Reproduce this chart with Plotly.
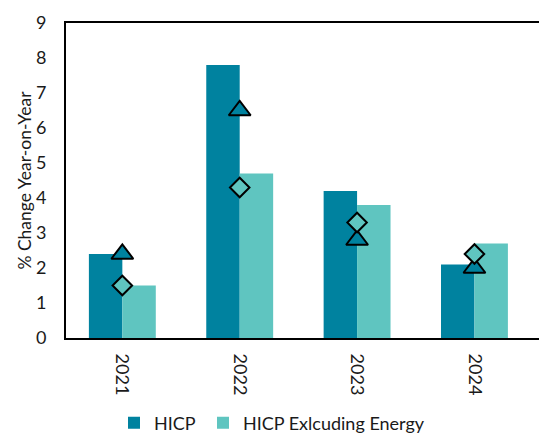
import plotly.graph_objects as go

years = ["2021", "2022", "2023", "2024"]
hicp = [2.4, 7.8, 4.2, 2.1]
hicp_ex_energy = [1.5, 4.7, 3.8, 2.7]
hicp_triangle = [2.4, 6.5, 2.8, 2.0]
hicp_ex_energy_diamond = [1.5, 4.3, 3.3, 2.4]

DARK = "#00829F"
LIGHT = "#5FC5C0"
FONT = "Lato"
TXT = "#1a1a1a"

fig = go.Figure()
fig.add_trace(go.Bar(x=years, y=hicp, name="HICP", legend="legend",
                     marker=dict(color=DARK, line=dict(width=0))))
fig.add_trace(go.Bar(x=years, y=hicp_ex_energy, name="HICP Exlcuding Energy", legend="legend2",
                     marker=dict(color=LIGHT, line=dict(width=0))))
fig.add_trace(go.Scatter(x=years, y=hicp_triangle, mode="markers", showlegend=False,
                         marker=dict(symbol="triangle-up", size=19, color=DARK,
                                     line=dict(color="black", width=2))))
fig.add_trace(go.Scatter(x=years, y=hicp_ex_energy_diamond, mode="markers", showlegend=False,
                         marker=dict(symbol="diamond", size=15, color=LIGHT,
                                     line=dict(color="black", width=2))))

leg_common = dict(orientation="h", yref="paper", xref="paper", yanchor="middle",
                  font=dict(family=FONT, size=18, color=TXT), itemwidth=30,
                  bgcolor="rgba(0,0,0,0)")
fig.update_layout(
    width=539, height=433,
    margin=dict(l=66, r=0, t=23, b=95, autoexpand=False),
    paper_bgcolor="white", plot_bgcolor="white",
    font=dict(family=FONT, size=18, color=TXT),
    barmode="group", bargap=0.43, bargroupgap=0,
    showlegend=True,
    legend=dict(x=(114 - 66) / 473, xanchor="left", y=-0.27, **leg_common),
    legend2=dict(x=(203 - 66) / 473, xanchor="left", y=-0.27, **leg_common),
)
fig.update_xaxes(type="category", range=[-0.48, 3.55], tickangle=90,
                 showline=True, linecolor="black", linewidth=2, mirror=True,
                 showgrid=False, ticks="outside", ticklen=10, tickcolor="rgba(0,0,0,0)",
                 tickfont=dict(size=18))
fig.update_yaxes(range=[0, 9], dtick=1, showgrid=False, zeroline=False,
                 showline=True, linecolor="black", linewidth=2,
                 ticks="outside", ticklen=14, tickcolor="rgba(0,0,0,0)",
                 tickfont=dict(size=18),
                 title=dict(text="% Change Year-on-Year", font=dict(size=17.5), standoff=0))

fig.write_html("out.html")
